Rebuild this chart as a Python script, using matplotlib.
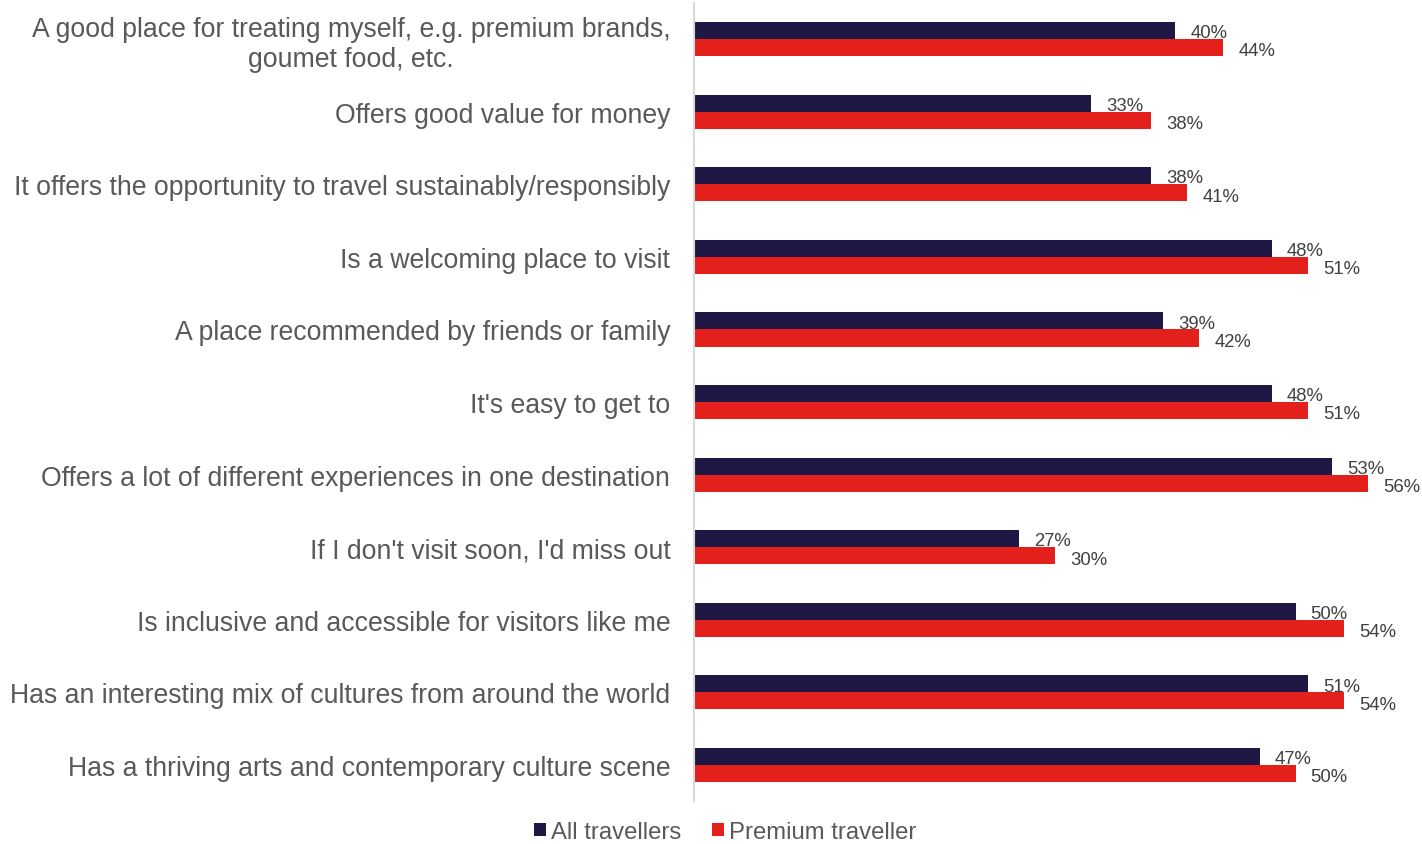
import numpy as np
from matplotlib import pyplot as plt

plt.rcParams['font.family'] = ['Liberation Sans', 'DejaVu Sans']

categories = [
    "A good place for treating myself, e.g. premium brands,\ngoumet food, etc.",
    "Offers good value for money",
    "It offers the opportunity to travel sustainably/responsibly",
    "Is a welcoming place to visit",
    "A place recommended by friends or family",
    "It's easy to get to",
    "Offers a lot of different experiences in one destination",
    "If I don't visit soon, I'd miss out",
    "Is inclusive and accessible for visitors like me",
    "Has an interesting mix of cultures from around the world",
    "Has a thriving arts and contemporary culture scene",
]
all_travellers = [40, 33, 38, 48, 39, 48, 53, 27, 50, 51, 47]
premium_traveller = [44, 38, 41, 51, 42, 51, 56, 30, 54, 54, 50]

navy = '#1F1845'
red = '#E3201B'

fig = plt.figure(figsize=(14.22, 8.45), dpi=100)
ax = fig.add_axes([0.488, 0.0505, 0.512, 0.945])

y = np.arange(len(categories))
h = 0.235
b1 = ax.barh(y - h / 2, all_travellers, height=h, color=navy, label='All travellers')
b2 = ax.barh(y + h / 2, premium_traveller, height=h, color=red, label='Premium traveller')

# data labels, nudged down a little like the original
for bars, vals, dy in [(b1, all_travellers, 0.03), (b2, premium_traveller, 0.045)]:
    for bar, v in zip(bars, vals):
        ax.text(bar.get_width() + 1.25, bar.get_y() + bar.get_height() / 2 + dy,
                f"{v}%", va='center', ha='left', fontsize=13.3, color='#404040')

ax.set_xlim(0, 60.5)
ax.set_ylim(len(categories) - 0.5, -0.5)
ax.set_yticks(y)
ax.set_yticklabels(categories, fontsize=19.2, color='#595959')
for lbl in ax.get_yticklabels():
    lbl.set_multialignment('center')
ax.tick_params(axis='y', length=0, pad=17)
ax.set_xticks([])

for s in ['top', 'right', 'bottom']:
    ax.spines[s].set_visible(False)
ax.spines['left'].set_color('#D9D9D9')
ax.spines['left'].set_linewidth(1.5)

leg = fig.legend(handles=[b1, b2], loc='center', bbox_to_anchor=(0.51, 0.014),
                 ncol=2, frameon=False, fontsize=17.2, handlelength=0.5,
                 handleheight=0.5, handletextpad=0.2, columnspacing=1.3)
for t in leg.get_texts():
    t.set_color('#595959')

fig.savefig('out.png', dpi=100)
